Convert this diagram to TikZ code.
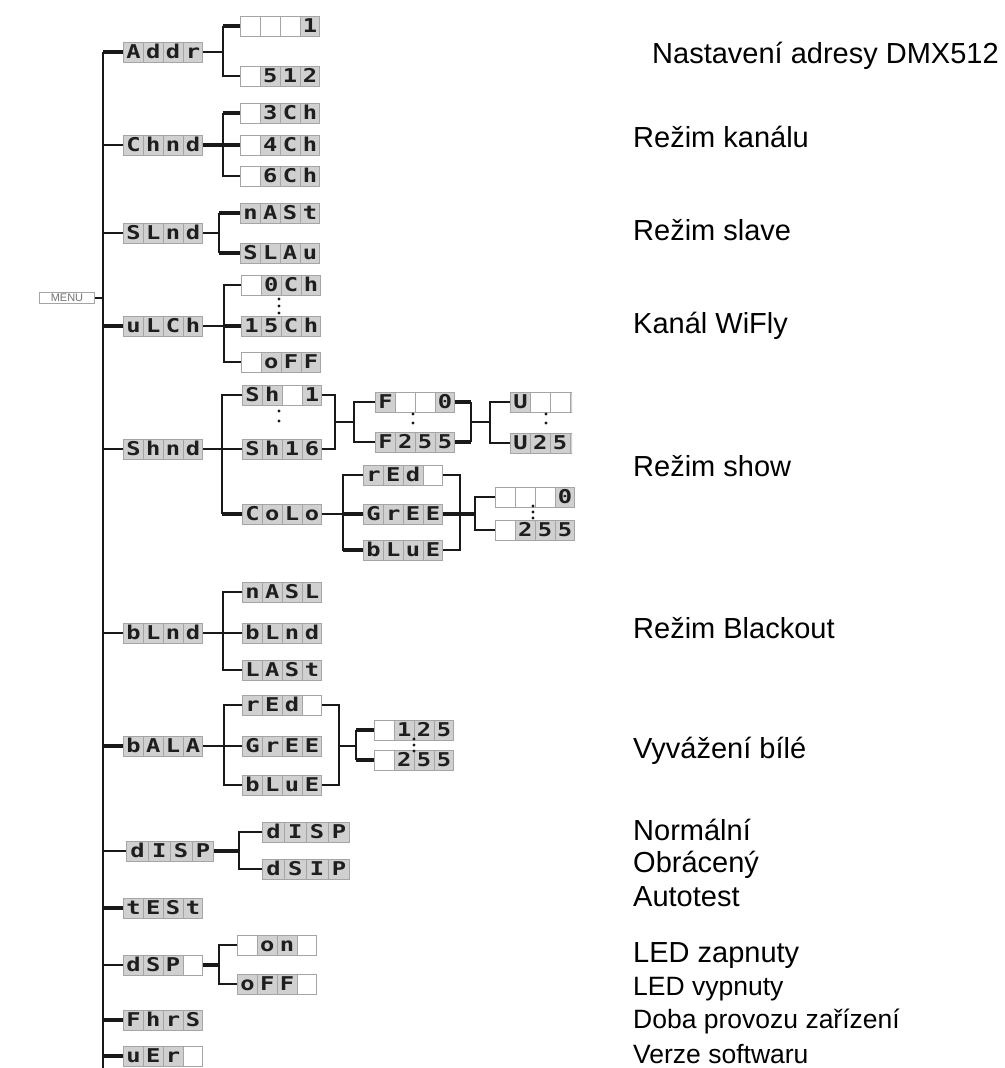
\documentclass[tikz,border=0pt]{standalone}
\usepackage{fontspec}
\setmainfont{Liberation Sans}
\newfontfamily\segfont[FakeStretch=1.25]{DejaVu Sans Mono}
\usepackage{tikz}
\usetikzlibrary{calc}
\definecolor{segink}{RGB}{30,30,30}
\definecolor{segfill}{RGB}{208,208,208}
\definecolor{segedge}{RGB}{165,165,165}
\definecolor{wirecol}{RGB}{25,25,25}
\setlength{\fboxsep}{0pt}
\setlength{\fboxrule}{0.8pt}
\newlength{\segw}
\newcommand{\segcell}[1]{%
  \ifx\relax#1\relax
    \fcolorbox{segedge}{white}{\makebox[\segw]{\rule[-3pt]{0pt}{19pt}}}%
  \else
    \fcolorbox{segedge}{segfill}{\makebox[\segw]{\rule[-3pt]{0pt}{19pt}\color{segink}#1}}%
  \fi}
\newcommand{\segbox}[5][19pt]{%
  \setlength{\segw}{#1}%
  \segcell{#2}\kern-\fboxrule\segcell{#3}\kern-\fboxrule%
  \segcell{#4}\kern-\fboxrule\segcell{#5}}
\tikzset{
  lcd/.style={inner sep=0pt, anchor=west, font=\segfont\bfseries\fontsize{19}{19}\selectfont},
  wire/.style={draw=wirecol, line width=1.6pt},
  wirebold/.style={draw=wirecol, line width=3.2pt},
  ellip/.style={draw=wirecol, line width=3.4pt, line cap=round, dash pattern=on 0pt off #1},
  ellip/.default=8pt,
  note/.style={anchor=base west, inner sep=0pt, font=\fontsize{29}{32}\selectfont},
  notesmall/.style={note, font=\fontsize{26.5}{30}\selectfont},
  menubox/.style={draw=segedge, line width=0.8pt, text=black!55, minimum width=55pt,
    minimum height=11pt, inner sep=0pt, font=\fontsize{11}{11}\selectfont}
}

\begin{document}
\begin{tikzpicture}[x=1pt, y=-1pt]
    \useasboundingbox [fill=white] (0,0) rectangle (1004,1068);

    % main menu and trunk
    \node [menubox] (menu) at (67,298) {MENU};
    \coordinate (trunktop) at (103,52);
    \coordinate (trunkbot) at (103,1080);

    % first level
    \node [lcd] (addr) at (123,52)   {\segbox{A}{d}{d}{r}};
    \node [lcd] (chmd) at (123,145)  {\segbox{C}{h}{n}{d}};
    \node [lcd] (slmd) at (123,233)  {\segbox{S}{L}{n}{d}};
    \node [lcd] (wlch) at (123,326)  {\segbox{u}{L}{C}{h}};
    \node [lcd] (shmd) at (123,449)  {\segbox{S}{h}{n}{d}};
    \node [lcd] (blmd) at (123,633)  {\segbox{b}{L}{n}{d}};
    \node [lcd] (bala) at (123,746)  {\segbox{b}{A}{L}{A}};
    \node [lcd] (disp) at (126,851)  {\segbox[21pt]{d}{I}{S}{P}};
    \node [lcd] (test) at (123,908)  {\segbox{t}{E}{S}{t}};
    \node [lcd] (dsp)  at (123,965)  {\segbox{d}{S}{P}{}};
    \node [lcd] (fhrs) at (123,1020) {\segbox{F}{h}{r}{S}};
    \node [lcd] (uer)  at (123,1056) {\segbox{u}{E}{r}{}};

    % second level
    \node [lcd] (addr1)   at (240,26)  {\segbox{}{}{}{1}};
    \node [lcd] (addr512) at (240,76)  {\segbox{}{5}{1}{2}};
    \node [lcd] (ch3) at (240,113) {\segbox{}{3}{C}{h}};
    \node [lcd] (ch4) at (240,145) {\segbox{}{4}{C}{h}};
    \node [lcd] (ch6) at (240,176) {\segbox{}{6}{C}{h}};
    \node [lcd] (mast) at (240,213) {\segbox{n}{A}{S}{t}};
    \node [lcd] (slav) at (240,253) {\segbox{S}{L}{A}{u}};
    \node [lcd] (wl0)   at (241,285) {\segbox{}{0}{C}{h}};
    \node [lcd] (wl15)  at (241,326) {\segbox{1}{5}{C}{h}};
    \node [lcd] (wloff) at (241,362) {\segbox{}{o}{F}{F}};
    \node [lcd] (sh1)  at (242,395) {\segbox{S}{h}{}{1}};
    \node [lcd] (sh16) at (242,449) {\segbox{S}{h}{1}{6}};
    \node [lcd] (colo) at (242,514) {\segbox{C}{o}{L}{o}};
    \node [lcd] (nasl) at (242,592) {\segbox{n}{A}{S}{L}};
    \node [lcd] (blnd) at (242,633) {\segbox{b}{L}{n}{d}};
    \node [lcd] (last) at (242,670) {\segbox{L}{A}{S}{t}};
    \node [lcd] (bred)  at (242,705) {\segbox{r}{E}{d}{}};
    \node [lcd] (bgree) at (242,746) {\segbox{G}{r}{E}{E}};
    \node [lcd] (bblue) at (242,785) {\segbox{b}{L}{u}{E}};
    \node [lcd] (dispn) at (262,832) {\segbox[21pt]{d}{I}{S}{P}};
    \node [lcd] (dispr) at (262,869) {\segbox[21pt]{d}{S}{I}{P}};
    \node [lcd] (ledon)  at (237,945) {\segbox{}{o}{n}{}};
    \node [lcd] (ledoff) at (237,984) {\segbox{o}{F}{F}{}};

    % deeper levels
    \node [lcd] (f0)   at (375,402) {\segbox{F}{}{}{0}};
    \node [lcd] (f255) at (375,442) {\segbox{F}{2}{5}{5}};
    \begin{scope}
        \clip (0,0) rectangle (572,1068);
        \node [lcd] (u0)   at (510,402) {\segbox{U}{}{}{1}};
        \node [lcd] (u255) at (510,443) {\segbox{U}{2}{5}{5}};
    \end{scope}
    \node [lcd] (cred)  at (363,475) {\segbox{r}{E}{d}{}};
    \node [lcd] (cgree) at (363,514) {\segbox{G}{r}{E}{E}};
    \node [lcd] (cblue) at (363,550) {\segbox{b}{L}{u}{E}};
    \node [lcd] (c0)   at (495,497) {\segbox{}{}{}{0}};
    \node [lcd] (c255) at (495,530) {\segbox{}{2}{5}{5}};
    \node [lcd] (b125) at (374,730) {\segbox{}{1}{2}{5}};
    \node [lcd] (b255) at (374,760) {\segbox{}{2}{5}{5}};

    % trunk
    \draw [wire] (trunktop) -- (trunkbot);
    \draw [wire] (menu.east) -- (menu.east -| trunktop);
    \foreach \n in {chmd,slmd,shmd,blmd,disp,dsp}
        \draw [wire] (\n.west -| trunktop) -- (\n.west);
    \foreach \n in {addr,wlch,bala,test,fhrs,uer}
        \draw [wirebold] (\n.west -| trunktop) -- (\n.west);

    % Addr
    \coordinate (addrJ) at (223,52);
    \draw [wire] (addr.east) -- (addrJ);
    \draw [wire] (addr1.west -| addrJ) -- (addr512.west -| addrJ) -- (addr512.west);
    \draw [wirebold] (addr1.west -| addrJ) -- (addr1.west);

    % channel mode
    \coordinate (chJ) at (223,145);
    \draw [wirebold] (chmd.east) -- (chJ);
    \draw [wire] (ch3.west -| chJ) -- (ch6.west -| chJ) -- (ch6.west);
    \draw [wirebold] (ch3.west -| chJ) -- (ch3.west);
    \draw [wirebold] (chJ) -- (ch4.west);

    % slave mode
    \coordinate (slJ) at (219,233);
    \draw [wire] (slmd.east) -- (slJ);
    \draw [wire] (mast.west -| slJ) -- (slav.west -| slJ);
    \foreach \n in {mast,slav}
        \draw [wirebold] (\n.west -| slJ) -- (\n.west);

    % wifly channel
    \coordinate (wlJ) at (224,326);
    \draw [wire] (wlch.east) -- (wlJ);
    \draw [wire] (wl0.west) -| (wlJ) |- (wloff.west);
    \draw [wirebold] (wlJ) -- (wl15.west);
    \draw [ellip=7pt] (279,299) -- (279,313);

    % show mode
    \coordinate (shJ) at (222,449);
    \draw [wire] (shmd.east) -- (sh16.west);
    \draw [wire] (sh1.west) -| (shJ) -- (colo.west -| shJ);
    \draw [wirebold] (colo.west -| shJ) -- (colo.west);
    \draw [ellip=10pt] (279,411) -- (279,431);
    \coordinate (shA) at (335,422);
    \draw [wire] (sh1.east) -| (shA) |- (sh16.east);
    \coordinate (fJ) at (354,422);
    \draw [wire] (shA) -- (fJ);
    \draw [wire] (f0.west) -| (fJ) |- (f255.west);
    \draw [ellip=9pt] (413,414) -- (413,432);
    \coordinate (fA) at (471,422);
    \draw [wire] (f0.east -| fA) -- (f255.east -| fA);
    \foreach \n in {f0,f255}
        \draw [wirebold] (\n.east) -- (\n.east -| fA);
    \coordinate (uJ) at (490,422);
    \draw [wire] (fA) -- (uJ);
    \draw [wire] (u0.west) -| (uJ) |- (u255.west);
    \draw [ellip=9pt] (546,414) -- (546,432);

    % colours
    \coordinate (cJ) at (343,514);
    \draw [wire] (colo.east) -- (cJ);
    \draw [wire] (cred.west) -| (cJ) |- (cblue.west);
    \draw [wirebold] (cJ) -- (cgree.west);
    \draw [wirebold] (cblue.west -| cJ) -- (cblue.west);
    \coordinate (cA) at (460,514);
    \draw [wire] (cred.east) -| (cA) |- (cblue.east);
    \draw [wirebold] (cgree.east) -- (cA);
    \coordinate (c0J) at (475,514);
    \draw [wirebold] (cA) -- (c0J);
    \draw [wire] (c0.west) -| (c0J) |- (c255.west);
    \draw [ellip=6pt] (533,506) -- (533,518);

    % blackout mode
    \coordinate (blJ) at (223,633);
    \draw [wire] (blmd.east) -- (blnd.west);
    \draw [wire] (nasl.west) -| (blJ) |- (last.west);

    % white balance
    \coordinate (baJ) at (224,746);
    \draw [wire] (bala.east) -- (bgree.west);
    \draw [wire] (bred.west) -| (baJ) |- (bblue.west);
    \coordinate (baA) at (339,746);
    \draw [wire] (bred.east) -| (baA) |- (bblue.east);
    \coordinate (b125J) at (356,746);
    \draw [wire] (baA) -- (b125J);
    \draw [wire] (b125.west -| b125J) -- (b255.west -| b125J);
    \foreach \n in {b125,b255}
        \draw [wirebold] (\n.west -| b125J) -- (\n.west);
    \draw [ellip=6pt] (414,739) -- (414,751);

    % display
    \coordinate (diJ) at (239,851);
    \draw [wirebold] (disp.east) -- (diJ);
    \draw [wire] (dispn.west) -| (diJ) |- (dispr.west);

    % leds
    \coordinate (dsJ) at (219,965);
    \draw [wirebold] (dsp.east) -- (dsJ);
    \draw [wire] (ledon.west) -| (dsJ) |- (ledoff.west);

    % descriptions
    \node [note] (taddr) at (652,63)  {Nastavení adresy DMX512};
    \node [note] (tch)   at (633,147) {Režim kanálu};
    \node [note] (tsl)   at (633,240) {Režim slave};
    \node [note] (twl)   at (633,333) {Kanál WiFly};
    \node [note] (tsh)   at (633,476) {Režim show};
    \node [note] (tbl)   at (633,638) {Režim Blackout};
    \node [note] (tba)   at (633,758) {Vyvážení bílé};
    \node [note] (tdn)   at (633,840) {Normální};
    \node [note] (tdr)   at (633,872) {Obrácený};
    \node [note] (ttest) at (633,906) {Autotest};
    \node [note] (ton)   at (633,962) {LED zapnuty};
    \node [notesmall] (toff)  at (633,995)  {LED vypnuty};
    \node [notesmall] (thrs)  at (633,1028) {Doba provozu zařízení};
    \node [notesmall] (tver)  at (633,1063) {Verze softwaru};
\end{tikzpicture}
\end{document}
